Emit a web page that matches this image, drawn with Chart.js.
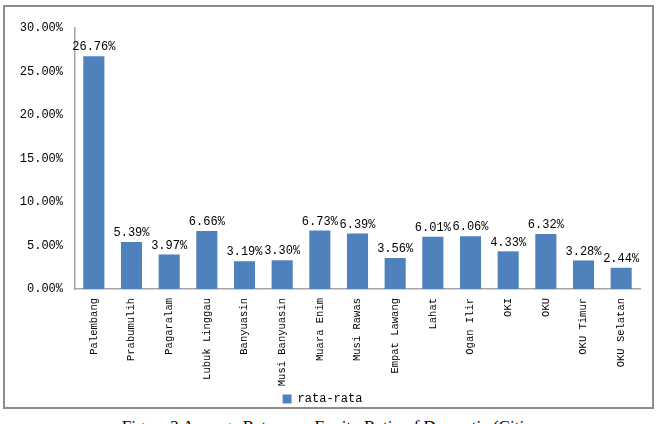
<!DOCTYPE html>
<html>
<head>
<meta charset="utf-8">
<script src="https://cdn.jsdelivr.net/npm/chart.js@4"></script>
<style>
  body { margin: 0; background: #fff; width: 660px; height: 424px; overflow: hidden; position: relative; }
  #box { position: absolute; left: 3px; top: 5px; width: 647px; height: 400px; border: 2px solid #8c8c8c; }
  #box canvas { display: block; }
  #caption { position: absolute; left: 0; top: 418px; width: 660px; text-align: center;
             font-family: "Liberation Serif", serif; font-size: 17px; line-height: 17px; color: #000; }
</style>
</head>
<body>
<div id="box"><canvas id="grafico"></canvas></div>
<div id="caption">Figure 2 Average Return on Equity Ratio of Domestic (Cities</div>
<script>
// dados
const kategori = ["Palembang", "Prabumulih", "Pagaralam", "Lubuk Linggau", "Banyuasin",
    "Musi Banyuasin", "Muara Enim", "Musi Rawas", "Empat Lawang", "Lahat",
    "Ogan Ilir", "OKI", "OKU", "OKU Timur", "OKU Selatan"];
const rataRata = [26.76, 5.39, 3.97, 6.66, 3.19, 3.30, 6.73, 6.39, 3.56, 6.01, 6.06, 4.33, 6.32, 3.28, 2.44];
const yTicks = [0, 5, 10, 15, 20, 25, 30];

const monoFont = "'Liberation Mono', 'DejaVu Sans Mono', monospace";

// label nilai di atas batang
const labelNilai = {
    id: "labelNilai",
    afterDatasetsDraw(chart) {
        const ctx = chart.ctx;
        ctx.save();
        ctx.font = "12px " + monoFont;
        ctx.fillStyle = "#000";
        ctx.textAlign = "center";
        ctx.textBaseline = "bottom";
        chart.getDatasetMeta(0).data.forEach((bar, i) => {
            ctx.fillText(rataRata[i].toFixed(2) + "%", bar.x, bar.y - 3);
        });
        ctx.restore();
    }
};

new Chart(document.getElementById("grafico"), {
    type: "bar",
    data: {
        labels: kategori,
        datasets: [{
            label: "rata-rata",
            data: rataRata,
            backgroundColor: "#4f81bd",
            borderWidth: 0,
            categoryPercentage: 1,
            barPercentage: 0.56
        }]
    },
    options: {
        responsive: true,
        maintainAspectRatio: false,
        animation: false,
        layout: { padding: { top: 21, right: 12, left: 0, bottom: -8 } },
        plugins: {
            legend: {
                position: "bottom",
                labels: {
                    font: { family: monoFont, size: 12 },
                    color: "#000",
                    boxWidth: 9,
                    boxHeight: 9,
                    padding: 0
                }
            },
            tooltip: { enabled: false }
        },
        scales: {
            x: {
                grid: { display: false, drawTicks: false },
                border: { display: true, color: "#a6a6a6", width: 1.5 },
                ticks: {
                    font: { family: monoFont, size: 10.5 },
                    color: "#000",
                    minRotation: 90,
                    maxRotation: 90,
                    autoSkip: false,
                    padding: 9
                },
                afterFit(scale) { scale.height = 104; }
            },
            y: {
                min: 0,
                max: 30,
                afterBuildTicks(scale) { scale.ticks = yTicks.map(v => ({ value: v })); },
                grid: { display: false, drawTicks: false },
                border: { display: true, color: "#a6a6a6", width: 1.5 },
                ticks: {
                    font: { family: monoFont, size: 12 },
                    color: "#000",
                    padding: 12,
                    callback: v => v.toFixed(2) + "%"
                },
                afterFit(scale) { scale.width = 70; }
            }
        }
    },
    plugins: [labelNilai]
});
</script>
</body>
</html>
